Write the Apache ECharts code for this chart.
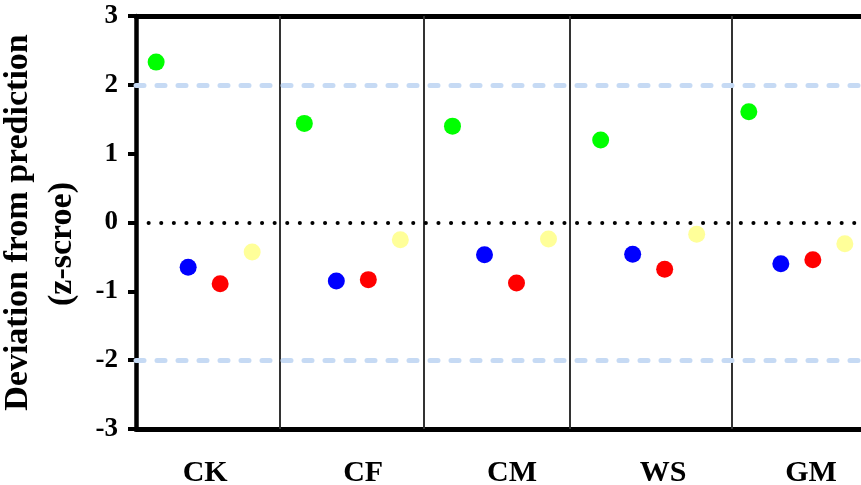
<!DOCTYPE html>
<html>
<head>
<meta charset="utf-8">
<script src="https://cdn.jsdelivr.net/npm/echarts@6/dist/echarts.min.js"></script>
<style>
html,body{margin:0;padding:0;background:#fff;}
#chart{width:861px;height:485px;}
</style>
</head>
<body>
<div id="chart"></div>
<script>
// ---- data ----
const categories = ['CK', 'CF', 'CM', 'WS', 'GM'];
const greenValues  = [2.33, 1.44, 1.40, 1.20, 1.61];
const blueValues   = [-0.65, -0.85, -0.47, -0.46, -0.60];
const redValues    = [-0.89, -0.83, -0.88, -0.68, -0.54];
const yellowValues = [-0.43, -0.25, -0.24, -0.17, -0.31];
const yTickValues  = [-3, -2, -1, 0, 1, 2, 3];
const thresholdValues = [2, -2];
const zeroValue = 0;
const yAxisTitle = 'Deviation from prediction';
const yAxisUnit = '(z-scroe)';

// ---- layout (not data) ----
const seriesOffsets = [-0.324, -0.108, 0.108, 0.324];
const separatorPositions = [0.513, 1.478, 2.466, 3.556];
const labelPositions = [0.007, 1.073, 2.078, 3.097, 4.096];
const xMin = -0.46, xMax = 4.433;
const FONT = '"Liberation Serif", "Times New Roman", serif';

function pts(vals, s) {
  return vals.map((v, i) => [i + seriesOffsets[s], v]);
}

const chart = echarts.init(document.getElementById('chart'), null, {renderer: 'canvas'});
const colors = ['#00ff00', '#0000ff', '#ff0000', '#ffff99'];
const allVals = [greenValues, blueValues, redValues, yellowValues];

const series = allVals.map((vals, s) => ({
  type: 'scatter',
  data: pts(vals, s),
  symbol: 'circle',
  symbolSize: 17,
  itemStyle: {color: colors[s], opacity: 1},
  z: 10,
  silent: true
}));

series.push({
  type: 'scatter',
  data: [],
  silent: true,
  z: 3,
  markLine: {
    silent: true,
    symbol: 'none',
    label: {show: false},
    animation: false,
    data: [
      ...separatorPositions.map(x => ({xAxis: x, lineStyle: {color: '#333', width: 2, type: 'solid'}})),
      ...thresholdValues.map(y => ({yAxis: y, lineStyle: {color: '#c6daf4', width: 5, type: [8, 13], cap: 'round'}})),
      {yAxis: zeroValue, lineStyle: {color: '#000', width: 4, type: [0.1, 12.5], cap: 'round'}}
    ]
  }
});

chart.setOption({
  animation: false,
  backgroundColor: '#fff',
  grid: {left: 136, right: 0, top: 16, bottom: 56, containLabel: false, outerBoundsMode: 'none'},
  xAxis: [{
    type: 'value',
    min: xMin, max: xMax,
    position: 'bottom',
    axisLine: {show: true, onZero: false, lineStyle: {color: '#000', width: 5}},
    axisTick: {show: false},
    splitLine: {show: false},
    axisLabel: {
      show: true,
      customValues: labelPositions,
      formatter: function (v) {
        const i = labelPositions.findIndex(p => Math.abs(p - v) < 1e-6);
        return i >= 0 ? categories[i] : '';
      },
      margin: 29,
      color: '#000',
      fontFamily: FONT,
      fontWeight: 'bold',
      fontSize: 30
    }
  }, {
    type: 'value',
    min: xMin, max: xMax,
    position: 'top',
    axisLine: {show: true, onZero: false, lineStyle: {color: '#000', width: 5}},
    axisTick: {show: false},
    axisLabel: {show: false},
    splitLine: {show: false}
  }],
  yAxis: {
    type: 'value',
    min: yTickValues[0],
    max: yTickValues[yTickValues.length - 1],
    interval: 1,
    axisLine: {show: true, onZero: false, lineStyle: {color: '#000', width: 4.5}},
    axisTick: {show: true, inside: false, length: 8, lineStyle: {color: '#000', width: 4}},
    splitLine: {show: false},
    axisLabel: {
      margin: 18,
      color: '#000',
      fontFamily: FONT,
      fontWeight: 'bold',
      fontSize: 27
    },
    name: '{a|' + yAxisTitle + '}\n{b|' + yAxisUnit + '}',
    nameLocation: 'middle',
    nameGap: 42,
    nameRotate: 90,
    nameTextStyle: {
      color: '#000',
      fontFamily: FONT,
      fontWeight: 'bold',
      fontSize: 34,
      lineHeight: 44,
      rich: {
        a: {fontFamily: FONT, fontWeight: 'bold', fontSize: 34, lineHeight: 44, color: '#000'},
        b: {fontFamily: FONT, fontWeight: 'bold', fontSize: 34, lineHeight: 44, color: '#000', padding: [0, 43, 0, 0]}
      }
    }
  },
  series: series
});
</script>
</body>
</html>
